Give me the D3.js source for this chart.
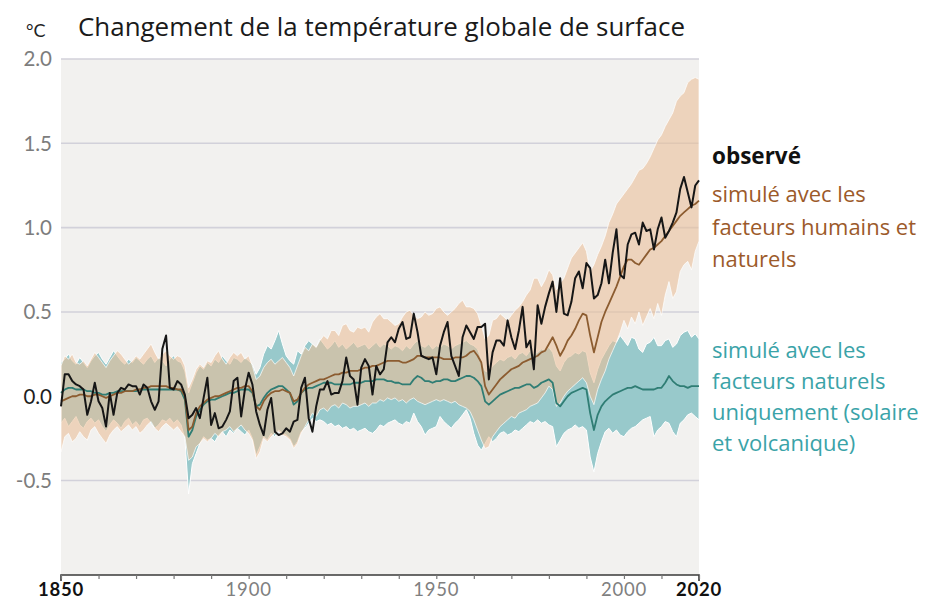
<!DOCTYPE html>
<html>
<head>
<meta charset="utf-8">
<script src="https://cdn.jsdelivr.net/npm/d3@7"></script>
<style>
  body { margin: 0; background: #fff; }
  svg { display: block; }
</style>
</head>
<body>
<svg id="chart" width="938" height="599"></svg>
<script>
// years 1850..2020, one value per year
var firstYear = 1850;
var lastYear = 2020;

var observed = [
  -0.06, 0.13, 0.13, 0.09, 0.07, 0.06, 0.04, -0.11, -0.03, 0.08,
  -0.03, -0.07, -0.18, 0.02, -0.11, 0.02, 0.05, 0.04, 0.07, 0.06,
  0.06, 0.01, 0.07, 0.05, -0.03, -0.08, -0.03, 0.28, 0.36, 0.05,
  0.04, 0.09, 0.07, 0.01, -0.13, -0.11, -0.07, -0.13, -0.01, 0.11,
  -0.17, -0.10, -0.19, -0.18, -0.14, -0.09, 0.09, 0.11, -0.12, 0.04,
  0.14, 0.07, -0.09, -0.17, -0.23, -0.08, -0.01, -0.21, -0.23, -0.22,
  -0.19, -0.21, -0.15, -0.14, 0.05, 0.11, -0.13, -0.21, -0.06, 0.04,
  0.04, 0.09, 0.01, 0.02, 0.02, 0.09, 0.23, 0.12, 0.10, -0.05,
  0.17, 0.22, 0.18, 0.01, 0.18, 0.13, 0.16, 0.32, 0.35, 0.32,
  0.40, 0.44, 0.34, 0.35, 0.49, 0.38, 0.24, 0.23, 0.22, 0.23,
  0.13, 0.30, 0.38, 0.44, 0.24, 0.18, 0.12, 0.35, 0.42, 0.38,
  0.34, 0.41, 0.41, 0.43, 0.10, 0.26, 0.33, 0.33, 0.30, 0.45,
  0.35, 0.28, 0.39, 0.53, 0.29, 0.33, 0.16, 0.54, 0.43, 0.53,
  0.61, 0.68, 0.50, 0.70, 0.49, 0.48, 0.56, 0.70, 0.74, 0.64,
  0.79, 0.76, 0.58, 0.60, 0.67, 0.81, 0.67, 0.85, 0.99, 0.72,
  0.70, 0.90, 0.96, 0.97, 0.90, 1.03, 0.98, 0.99, 0.87, 0.99,
  1.06, 0.94, 0.98, 1.03, 1.09, 1.23, 1.30, 1.21, 1.12, 1.25,
  1.28
];

// simulated, human + natural factors
var humanMean = [
  -0.03, -0.02, -0.01, 0.00, 0.00, 0.01, 0.01, 0.00, 0.00, 0.01,
  0.01, 0.00, -0.01, 0.00, 0.01, 0.02, 0.02, 0.03, 0.03, 0.03,
  0.04, 0.04, 0.05, 0.05, 0.06, 0.06, 0.06, 0.06, 0.06, 0.05,
  0.05, 0.04, 0.04, 0.00, -0.20, -0.18, -0.10, -0.06, -0.04, -0.02,
  -0.01, 0.00, 0.00, 0.01, 0.02, 0.03, 0.04, 0.05, 0.05, 0.06,
  0.06, 0.03, -0.06, -0.08, -0.03, 0.00, 0.02, 0.03, 0.03, 0.04,
  0.03, 0.02, -0.03, -0.02, 0.02, 0.05, 0.07, 0.08, 0.09, 0.10,
  0.10, 0.11, 0.12, 0.13, 0.13, 0.14, 0.14, 0.15, 0.15, 0.15,
  0.16, 0.17, 0.17, 0.18, 0.18, 0.19, 0.20, 0.21, 0.21, 0.21,
  0.21, 0.20, 0.20, 0.21, 0.22, 0.24, 0.24, 0.23, 0.23, 0.23,
  0.23, 0.23, 0.22, 0.22, 0.22, 0.23, 0.23, 0.23, 0.24, 0.26,
  0.27, 0.24, 0.20, 0.06, 0.01, 0.04, 0.07, 0.10, 0.12, 0.14,
  0.16, 0.17, 0.18, 0.20, 0.21, 0.22, 0.23, 0.24, 0.26, 0.27,
  0.31, 0.35, 0.30, 0.24, 0.28, 0.33, 0.36, 0.40, 0.45, 0.49,
  0.48, 0.36, 0.26, 0.35, 0.44, 0.50, 0.55, 0.60, 0.65, 0.71,
  0.77, 0.81, 0.81, 0.79, 0.78, 0.81, 0.84, 0.87, 0.88, 0.90,
  0.92, 0.95, 0.98, 1.01, 1.04, 1.07, 1.09, 1.11, 1.13, 1.14,
  1.16
];
var humanHigh = [
  0.18, 0.24, 0.22, 0.25, 0.20, 0.19, 0.21, 0.18, 0.22, 0.26,
  0.23, 0.20, 0.17, 0.21, 0.24, 0.27, 0.25, 0.22, 0.19, 0.21,
  0.24, 0.22, 0.25, 0.28, 0.31, 0.26, 0.22, 0.25, 0.27, 0.24,
  0.22, 0.24, 0.23, 0.18, 0.05, 0.10, 0.16, 0.19, 0.17, 0.21,
  0.20, 0.24, 0.27, 0.22, 0.19, 0.23, 0.26, 0.24, 0.26, 0.22,
  0.24, 0.18, 0.10, 0.12, 0.17, 0.20, 0.22, 0.19, 0.21, 0.23,
  0.20, 0.17, 0.12, 0.18, 0.24, 0.29, 0.27, 0.31, 0.29, 0.33,
  0.36, 0.34, 0.39, 0.39, 0.36, 0.42, 0.43, 0.39, 0.38, 0.41,
  0.40, 0.41, 0.38, 0.44, 0.47, 0.49, 0.46, 0.46, 0.44, 0.42,
  0.43, 0.47, 0.50, 0.51, 0.48, 0.46, 0.47, 0.50, 0.48, 0.49,
  0.52, 0.53, 0.50, 0.48, 0.50, 0.52, 0.55, 0.57, 0.53, 0.53,
  0.52, 0.49, 0.42, 0.34, 0.36, 0.45, 0.46, 0.49, 0.47, 0.45,
  0.48, 0.51, 0.53, 0.56, 0.60, 0.63, 0.70, 0.70, 0.65, 0.69,
  0.75, 0.72, 0.63, 0.67, 0.70, 0.76, 0.82, 0.85, 0.88, 0.91,
  0.86, 0.74, 0.78, 0.84, 0.89, 0.95, 1.03, 1.08, 1.14, 1.17,
  1.20, 1.23, 1.26, 1.30, 1.34, 1.35, 1.38, 1.42, 1.47, 1.52,
  1.55, 1.60, 1.64, 1.68, 1.75, 1.78, 1.80, 1.86, 1.88, 1.89,
  1.88
];
var humanLow = [
  -0.33, -0.24, -0.22, -0.27, -0.25, -0.21, -0.24, -0.26, -0.20, -0.18,
  -0.22, -0.25, -0.28, -0.23, -0.20, -0.18, -0.21, -0.19, -0.17, -0.20,
  -0.18, -0.22, -0.20, -0.17, -0.15, -0.19, -0.21, -0.18, -0.16, -0.18,
  -0.20, -0.18, -0.21, -0.24, -0.38, -0.36, -0.30, -0.28, -0.25, -0.27,
  -0.25, -0.22, -0.24, -0.21, -0.20, -0.18, -0.21, -0.19, -0.17, -0.20,
  -0.22, -0.26, -0.37, -0.33, -0.25, -0.27, -0.24, -0.22, -0.21, -0.23,
  -0.24, -0.26, -0.31, -0.28, -0.22, -0.18, -0.14, -0.10, -0.12, -0.08,
  -0.07, -0.09, -0.06, -0.05, -0.07, -0.04, -0.05, -0.07, -0.06, -0.06,
  -0.05, -0.04, -0.06, -0.04, -0.04, -0.02, -0.03, -0.01, -0.02, -0.01,
  -0.03, -0.02, -0.04, -0.02, -0.01, -0.03, -0.04, -0.05, -0.04, -0.03,
  -0.02, -0.03, -0.02, -0.03, -0.04, -0.03, -0.05, -0.06, -0.07, -0.09,
  -0.14, -0.20, -0.26, -0.31, -0.30, -0.24, -0.21, -0.18, -0.16, -0.14,
  -0.12, -0.13, -0.10, -0.09, -0.08, -0.06, -0.05, -0.04, -0.01, 0.02,
  0.06, 0.04, -0.06, -0.04, 0.00, 0.03, 0.05, 0.07, 0.09, 0.11,
  0.08, 0.00, -0.05, 0.04, 0.10, 0.15, 0.22, 0.27, 0.32, 0.38,
  0.45, 0.40, 0.47, 0.43, 0.50, 0.42, 0.47, 0.52, 0.46, 0.55,
  0.48, 0.60, 0.68, 0.58, 0.62, 0.74, 0.78, 0.80, 0.75, 0.86,
  0.92
];

// simulated, natural factors only (solar and volcanic)
var naturalMean = [
  0.02, 0.04, 0.05, 0.05, 0.04, 0.04, 0.04, 0.03, 0.03, 0.02,
  0.02, 0.01, 0.01, 0.02, 0.02, 0.03, 0.03, 0.03, 0.03, 0.03,
  0.03, 0.04, 0.04, 0.04, 0.04, 0.04, 0.04, 0.04, 0.04, 0.04,
  0.04, 0.04, 0.03, -0.02, -0.24, -0.20, -0.12, -0.08, -0.05, -0.03,
  -0.02, -0.02, -0.01, 0.00, 0.01, 0.02, 0.02, 0.03, 0.04, 0.04,
  0.04, 0.02, -0.06, -0.05, -0.01, 0.02, 0.04, 0.05, 0.06, 0.06,
  0.04, 0.02, -0.05, -0.03, 0.02, 0.04, 0.05, 0.05, 0.06, 0.07,
  0.08, 0.08, 0.08, 0.07, 0.07, 0.07, 0.07, 0.07, 0.08, 0.08,
  0.08, 0.09, 0.09, 0.09, 0.10, 0.10, 0.10, 0.09, 0.09, 0.08,
  0.08, 0.07, 0.07, 0.07, 0.10, 0.12, 0.11, 0.09, 0.09, 0.08,
  0.09, 0.09, 0.10, 0.10, 0.09, 0.09, 0.10, 0.11, 0.12, 0.12,
  0.11, 0.09, 0.06, -0.03, -0.05, -0.03, -0.01, 0.01, 0.02, 0.03,
  0.04, 0.05, 0.05, 0.06, 0.07, 0.07, 0.05, 0.06, 0.08, 0.09,
  0.10, 0.08, -0.04, -0.06, -0.03, 0.00, 0.02, 0.03, 0.04, 0.05,
  0.04, -0.10, -0.20, -0.11, -0.06, -0.03, -0.01, 0.01, 0.02, 0.03,
  0.04, 0.05, 0.05, 0.06, 0.05, 0.04, 0.04, 0.04, 0.04, 0.05,
  0.05, 0.08, 0.12, 0.09, 0.07, 0.06, 0.06, 0.05, 0.06, 0.06,
  0.06
];
var naturalHigh = [
  0.20, 0.22, 0.25, 0.21, 0.19, 0.23, 0.20, 0.17, 0.21, 0.24,
  0.26, 0.22, 0.19, 0.23, 0.27, 0.24, 0.21, 0.19, 0.22, 0.20,
  0.23, 0.21, 0.19, 0.22, 0.24, 0.20, 0.23, 0.21, 0.18, 0.22,
  0.24, 0.21, 0.20, 0.15, 0.02, 0.08, 0.14, 0.18, 0.16, 0.20,
  0.18, 0.22, 0.20, 0.24, 0.21, 0.19, 0.23, 0.22, 0.20, 0.23,
  0.21, 0.19, 0.13, 0.17, 0.25, 0.30, 0.28, 0.33, 0.39, 0.31,
  0.24, 0.21, 0.19, 0.27, 0.25, 0.30, 0.33, 0.31, 0.29, 0.34,
  0.31, 0.28, 0.30, 0.33, 0.29, 0.31, 0.28, 0.30, 0.32, 0.29,
  0.30, 0.31, 0.28, 0.30, 0.32, 0.29, 0.31, 0.30, 0.28, 0.30,
  0.29, 0.27, 0.30, 0.28, 0.31, 0.33, 0.30, 0.29, 0.31, 0.28,
  0.30, 0.29, 0.31, 0.30, 0.28, 0.30, 0.31, 0.32, 0.33, 0.31,
  0.30, 0.28, 0.22, 0.15, 0.14, 0.18, 0.20, 0.22, 0.21, 0.23,
  0.24, 0.22, 0.25, 0.26, 0.24, 0.27, 0.25, 0.26, 0.28, 0.27,
  0.29, 0.26, 0.18, 0.15, 0.20, 0.23, 0.24, 0.26, 0.25, 0.27,
  0.26, 0.14, 0.08, 0.16, 0.22, 0.26, 0.30, 0.33, 0.32, 0.36,
  0.33, 0.30, 0.35, 0.34, 0.28, 0.26, 0.31, 0.32, 0.35, 0.30,
  0.30, 0.33, 0.34, 0.29, 0.31, 0.36, 0.38, 0.39, 0.35, 0.37,
  0.34
];
var naturalLow = [
  -0.16, -0.13, -0.18, -0.15, -0.12, -0.17, -0.19, -0.15, -0.13, -0.16,
  -0.14, -0.18, -0.21, -0.17, -0.14, -0.16, -0.19, -0.15, -0.13, -0.17,
  -0.15, -0.18, -0.14, -0.13, -0.16, -0.19, -0.17, -0.14, -0.15, -0.13,
  -0.16, -0.14, -0.17, -0.25, -0.58, -0.40, -0.34, -0.28, -0.24, -0.26,
  -0.25, -0.27, -0.23, -0.21, -0.24, -0.20, -0.22, -0.19, -0.21, -0.23,
  -0.20, -0.25, -0.35, -0.30, -0.24, -0.26, -0.22, -0.24, -0.20, -0.22,
  -0.23, -0.25, -0.30, -0.27, -0.21, -0.19, -0.16, -0.13, -0.15, -0.14,
  -0.15, -0.17, -0.16, -0.18, -0.17, -0.19, -0.18, -0.20, -0.19, -0.21,
  -0.20, -0.19, -0.21, -0.22, -0.20, -0.17, -0.18, -0.16, -0.15, -0.14,
  -0.16, -0.17, -0.15, -0.16, -0.10, -0.15, -0.18, -0.23, -0.20, -0.19,
  -0.18, -0.12, -0.15, -0.17, -0.19, -0.16, -0.14, -0.11, -0.08, -0.13,
  -0.22, -0.29, -0.32, -0.28, -0.24, -0.27, -0.25, -0.22, -0.21, -0.23,
  -0.22, -0.20, -0.21, -0.19, -0.17, -0.15, -0.16, -0.14, -0.16, -0.15,
  -0.17, -0.18, -0.30, -0.26, -0.22, -0.20, -0.19, -0.17, -0.19, -0.18,
  -0.20, -0.36, -0.45, -0.34, -0.27, -0.21, -0.19, -0.22, -0.20, -0.23,
  -0.24, -0.21, -0.19, -0.18, -0.16, -0.14, -0.13, -0.12, -0.24, -0.20,
  -0.18, -0.15, -0.16, -0.21, -0.24, -0.16, -0.14, -0.11, -0.10, -0.12,
  -0.14
];

var yTicks = [-0.5, 0.0, 0.5, 1.0, 1.5, 2.0];
var xTickYears = [1850, 1860, 1870, 1880, 1890, 1900, 1910, 1920, 1930, 1940,
  1950, 1960, 1970, 1980, 1990, 2000, 2010, 2020];
var xLabelYears = [1850, 1900, 1950, 2000, 2020];
var boldYears = [1850, 2020];

var title = 'Changement de la température globale de surface';
var unit = '°C';
var legendObserved = ['observé'];
var legendHuman = ['simulé avec les', 'facteurs humains et', 'naturels'];
var legendNatural = ['simulé avec les', 'facteurs naturels', 'uniquement (solaire', 'et volcanique)'];

var colors = {
  bg: '#f2f1ef',
  grid: '#d2d1da',
  bandNatural: '#98c9cb',
  bandHuman: '#e9bf9a',
  lineHuman: '#8c5c30',
  lineNatural: '#2f7d74',
  lineObserved: '#161616',
  textHuman: '#9c5a2a',
  textNatural: '#3aa3a8'
};

var margin = { left: 61, right: 239, top: 59, bottom: 24 };
var width = 938, height = 599;

var rows = d3.range(firstYear, lastYear + 1).map(function (yr, i) {
  return {
    year: yr,
    obs: observed[i],
    hm: humanMean[i], hh: humanHigh[i], hl: humanLow[i],
    nm: naturalMean[i], nh: naturalHigh[i], nl: naturalLow[i]
  };
});

var svg = d3.select('#chart');

var yMin = -1.06;

var x = d3.scaleLinear()
  .domain([firstYear, lastYear])
  .range([margin.left, width - margin.right]);

var y = d3.scaleLinear()
  .domain([yMin, 2.0])
  .range([height - margin.bottom, margin.top]);

// plot background
svg.append('rect')
  .attr('x', x(firstYear))
  .attr('y', y(2.0))
  .attr('width', x(lastYear) - x(firstYear))
  .attr('height', y(yMin) - y(2.0))
  .attr('fill', colors.bg);

// gridlines
svg.append('g')
  .selectAll('line')
  .data(yTicks)
  .enter()
  .append('line')
  .attr('x1', x(firstYear))
  .attr('x2', x(lastYear))
  .attr('y1', function (d) { return y(d); })
  .attr('y2', function (d) { return y(d); })
  .attr('stroke', colors.grid)
  .attr('stroke-width', 1.6);

// y labels
svg.append('g')
  .selectAll('text')
  .data(yTicks)
  .enter()
  .append('text')
  .attr('x', 52)
  .attr('y', function (d) { return y(d); })
  .attr('dy', '0.36em')
  .attr('text-anchor', 'end')
  .attr('font-family', 'Lato, sans-serif')
  .attr('font-size', 20.5)
  .attr('fill', function (d) { return d === 0 ? '#1e1e1e' : '#7d7d7d'; })
  .text(function (d) { return d3.format('.1f')(d).replace('−', '-'); });

// bands
var areaNatural = d3.area()
  .x(function (d) { return x(d.year); })
  .y0(function (d) { return y(d.nl); })
  .y1(function (d) { return y(d.nh); });

var areaHuman = d3.area()
  .x(function (d) { return x(d.year); })
  .y0(function (d) { return y(d.hl); })
  .y1(function (d) { return y(d.hh); });

svg.append('path')
  .datum(rows)
  .attr('class', 'band-natural')
  .attr('d', areaNatural)
  .attr('fill', colors.bandNatural)
  .attr('stroke', '#fff')
  .attr('stroke-width', 1);

svg.append('path')
  .datum(rows)
  .attr('class', 'band-human')
  .attr('d', areaHuman)
  .attr('fill', colors.bandHuman)
  .attr('fill-opacity', 0.6)
  .attr('stroke', '#fff')
  .attr('stroke-opacity', 0.7)
  .attr('stroke-width', 1);

// lines
function lineOf(key) {
  return d3.line()
    .x(function (d) { return x(d.year); })
    .y(function (d) { return y(d[key]); });
}

svg.append('path')
  .datum(rows)
  .attr('d', lineOf('nm'))
  .attr('fill', 'none')
  .attr('stroke', colors.lineNatural)
  .attr('stroke-width', 1.8)
  .attr('stroke-linejoin', 'round');

svg.append('path')
  .datum(rows)
  .attr('d', lineOf('hm'))
  .attr('fill', 'none')
  .attr('stroke', colors.lineHuman)
  .attr('stroke-width', 1.8)
  .attr('stroke-linejoin', 'round');

svg.append('path')
  .datum(rows)
  .attr('d', lineOf('obs'))
  .attr('fill', 'none')
  .attr('stroke', colors.lineObserved)
  .attr('stroke-width', 2)
  .attr('stroke-linejoin', 'round');

// x axis
var xAxis = svg.append('g')
  .attr('transform', 'translate(0,' + y(yMin) + ')')
  .call(d3.axisBottom(x)
    .tickValues(xTickYears)
    .tickSize(4)
    .tickFormat(''));

xAxis.select('.domain')
  .attr('stroke', '#3a3a3a')
  .attr('stroke-width', 1.6)
  .attr('d', 'M' + x(firstYear) + ',6V0H' + x(lastYear) + 'V6');

xAxis.selectAll('.tick line')
  .attr('stroke', '#777')
  .attr('stroke-width', 1.2);

svg.append('g')
  .selectAll('text')
  .data(xLabelYears)
  .enter()
  .append('text')
  .attr('x', function (d) { return x(d); })
  .attr('y', 596)
  .attr('text-anchor', 'middle')
  .attr('font-family', 'Lato, sans-serif')
  .attr('font-size', 18.5)
  .attr('letter-spacing', 0.8)
  .attr('font-weight', function (d) { return boldYears.indexOf(d) >= 0 ? 'bold' : 'normal'; })
  .attr('fill', function (d) { return boldYears.indexOf(d) >= 0 ? '#111' : '#808080'; })
  .text(function (d) { return d; });

// title
svg.append('text')
  .attr('x', 26)
  .attr('y', 37)
  .attr('font-family', 'Lato, sans-serif')
  .attr('font-size', 18)
  .attr('fill', '#222')
  .text(unit);

svg.append('text')
  .attr('x', 78)
  .attr('y', 36)
  .attr('font-family', '"Open Sans", sans-serif')
  .attr('font-size', 25)
  .attr('fill', '#1a1a1a')
  .attr('textLength', 607)
  .attr('lengthAdjust', 'spacingAndGlyphs')
  .text(title);

// legend
var legendX = 712;
var legendFont = '"Open Sans", sans-serif';

svg.append('text')
  .attr('x', legendX)
  .attr('y', 164)
  .attr('font-family', legendFont)
  .attr('font-size', 22.5)
  .attr('font-weight', 'bold')
  .attr('fill', '#111')
  .text(legendObserved[0]);

svg.append('g')
  .selectAll('text')
  .data(legendHuman)
  .enter()
  .append('text')
  .attr('x', legendX)
  .attr('y', function (d, i) { return 202 + i * 32.5; })
  .attr('font-family', legendFont)
  .attr('font-size', 22)
  .attr('fill', colors.textHuman)
  .text(function (d) { return d; });

svg.append('g')
  .selectAll('text')
  .data(legendNatural)
  .enter()
  .append('text')
  .attr('x', legendX)
  .attr('y', function (d, i) { return 358 + i * 31; })
  .attr('font-family', legendFont)
  .attr('font-size', 22)
  .attr('fill', colors.textNatural)
  .text(function (d) { return d; });
</script>
</body>
</html>
